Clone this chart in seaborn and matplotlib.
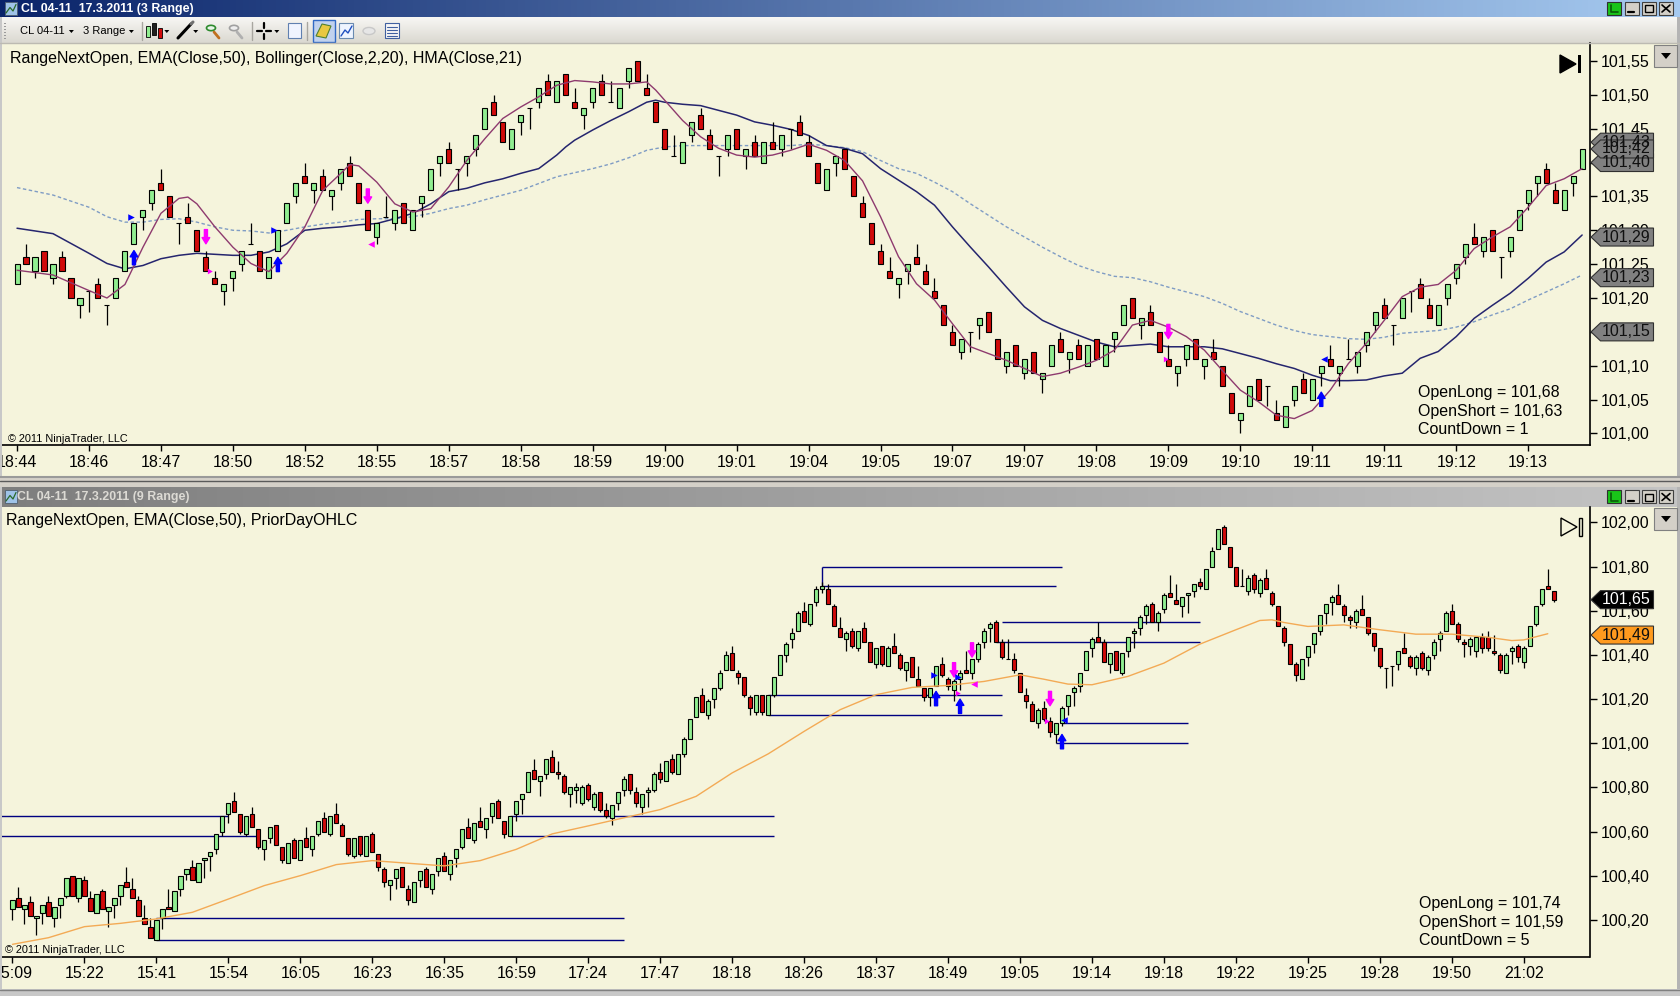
import numpy as np
import pandas as pd
import matplotlib
matplotlib.use("Agg")
import matplotlib.pyplot as plt
import matplotlib.transforms as mtransforms
import seaborn as sns
from matplotlib.patches import Rectangle, Polygon, Circle
from matplotlib.lines import Line2D
from matplotlib.colors import LinearSegmentedColormap
from matplotlib.ticker import FuncFormatter

# ---------------- top chart: CL 04-11, 3 Range ----------------
top_open = [
    101.22, 101.26, 101.24, 101.27, 101.23, 101.26, 101.23, 101.19, 101.21, 101.22,
    101.19, 101.20, 101.24, 101.28, 101.32, 101.34, 101.37, 101.35, 101.31, 101.32,
    101.30, 101.26, 101.23, 101.21, 101.23, 101.25, 101.28, 101.27, 101.23, 101.27,
    101.31, 101.35, 101.38, 101.36, 101.38, 101.35, 101.37, 101.40, 101.37, 101.33,
    101.29, 101.32, 101.31, 101.34, 101.30, 101.34, 101.36, 101.40, 101.42, 101.39,
    101.40, 101.42, 101.45, 101.49, 101.46, 101.42, 101.46, 101.48, 101.49, 101.52,
    101.49, 101.53, 101.49, 101.47, 101.49, 101.52, 101.49, 101.48, 101.52, 101.55,
    101.51, 101.49, 101.45, 101.41, 101.40, 101.44, 101.47, 101.44, 101.41, 101.42,
    101.45, 101.41, 101.43, 101.40, 101.43, 101.42, 101.45, 101.46, 101.43, 101.40,
    101.36, 101.40, 101.42, 101.38, 101.34, 101.31, 101.27, 101.24, 101.22, 101.24,
    101.26, 101.24, 101.21, 101.19, 101.15, 101.12, 101.15, 101.16, 101.18, 101.14,
    101.10, 101.13, 101.09, 101.12, 101.08, 101.10, 101.14, 101.11, 101.13, 101.10,
    101.14, 101.10, 101.14, 101.16, 101.20, 101.16, 101.18, 101.15, 101.11, 101.09,
    101.11, 101.14, 101.10, 101.12, 101.10, 101.06, 101.02, 101.04, 101.08, 101.07,
    101.03, 101.01, 101.05, 101.08, 101.05, 101.09, 101.11, 101.09, 101.11, 101.10,
    101.13, 101.16, 101.19, 101.16, 101.17, 101.21, 101.22, 101.19, 101.16, 101.20,
    101.23, 101.26, 101.29, 101.27, 101.30, 101.26, 101.27, 101.30, 101.34, 101.37,
    101.39, 101.36, 101.33, 101.37, 101.39,
]
top_high = [
    101.25, 101.28, 101.26, 101.27, 101.25, 101.27, 101.23, 101.20, 101.21, 101.23,
    101.19, 101.23, 101.27, 101.31, 101.33, 101.36, 101.39, 101.35, 101.31, 101.34,
    101.30, 101.27, 101.24, 101.22, 101.24, 101.27, 101.31, 101.27, 101.26, 101.30,
    101.34, 101.37, 101.40, 101.37, 101.39, 101.36, 101.39, 101.41, 101.37, 101.33,
    101.31, 101.35, 101.33, 101.34, 101.33, 101.35, 101.39, 101.41, 101.43, 101.39,
    101.41, 101.44, 101.48, 101.50, 101.46, 101.45, 101.47, 101.48, 101.51, 101.53,
    101.52, 101.53, 101.51, 101.48, 101.51, 101.53, 101.52, 101.51, 101.54, 101.55,
    101.53, 101.49, 101.45, 101.44, 101.43, 101.46, 101.48, 101.45, 101.41, 101.44,
    101.45, 101.42, 101.44, 101.43, 101.46, 101.44, 101.45, 101.47, 101.44, 101.40,
    101.39, 101.41, 101.42, 101.38, 101.35, 101.31, 101.28, 101.26, 101.23, 101.25,
    101.28, 101.25, 101.23, 101.19, 101.16, 101.14, 101.15, 101.17, 101.18, 101.14,
    101.12, 101.13, 101.11, 101.12, 101.09, 101.13, 101.15, 101.12, 101.14, 101.13,
    101.14, 101.13, 101.15, 101.19, 101.20, 101.17, 101.19, 101.15, 101.13, 101.10,
    101.13, 101.14, 101.11, 101.14, 101.10, 101.06, 101.03, 101.07, 101.08, 101.07,
    101.05, 101.04, 101.07, 101.09, 101.08, 101.10, 101.13, 101.10, 101.14, 101.12,
    101.15, 101.18, 101.20, 101.16, 101.20, 101.21, 101.23, 101.20, 101.19, 101.22,
    101.25, 101.28, 101.31, 101.29, 101.30, 101.26, 101.29, 101.33, 101.36, 101.38,
    101.40, 101.37, 101.36, 101.38, 101.42,
]
top_low = [
    101.22, 101.25, 101.23, 101.24, 101.22, 101.24, 101.20, 101.17, 101.18, 101.20,
    101.16, 101.20, 101.24, 101.28, 101.30, 101.33, 101.36, 101.32, 101.28, 101.31,
    101.27, 101.24, 101.22, 101.19, 101.21, 101.24, 101.28, 101.24, 101.23, 101.27,
    101.31, 101.34, 101.37, 101.34, 101.36, 101.33, 101.36, 101.38, 101.34, 101.30,
    101.28, 101.32, 101.30, 101.31, 101.30, 101.32, 101.36, 101.38, 101.40, 101.36,
    101.38, 101.41, 101.45, 101.47, 101.43, 101.42, 101.44, 101.45, 101.48, 101.50,
    101.49, 101.50, 101.48, 101.45, 101.48, 101.50, 101.49, 101.48, 101.51, 101.52,
    101.50, 101.46, 101.42, 101.41, 101.40, 101.43, 101.45, 101.42, 101.38, 101.41,
    101.42, 101.39, 101.41, 101.40, 101.42, 101.41, 101.42, 101.44, 101.41, 101.37,
    101.36, 101.38, 101.39, 101.35, 101.32, 101.28, 101.25, 101.23, 101.20, 101.22,
    101.25, 101.22, 101.20, 101.16, 101.13, 101.11, 101.12, 101.14, 101.15, 101.11,
    101.09, 101.10, 101.08, 101.09, 101.06, 101.10, 101.12, 101.09, 101.11, 101.10,
    101.11, 101.10, 101.12, 101.16, 101.17, 101.14, 101.16, 101.12, 101.10, 101.07,
    101.10, 101.11, 101.08, 101.11, 101.07, 101.03, 101.00, 101.04, 101.05, 101.04,
    101.02, 101.01, 101.04, 101.06, 101.05, 101.07, 101.10, 101.07, 101.11, 101.09,
    101.12, 101.15, 101.17, 101.13, 101.17, 101.18, 101.20, 101.17, 101.16, 101.19,
    101.22, 101.25, 101.28, 101.26, 101.27, 101.23, 101.26, 101.30, 101.33, 101.35,
    101.37, 101.34, 101.33, 101.35, 101.39,
]
top_close = [
    101.25, 101.25, 101.26, 101.24, 101.25, 101.24, 101.20, 101.20, 101.21, 101.20,
    101.19, 101.23, 101.27, 101.31, 101.33, 101.36, 101.36, 101.32, 101.31, 101.31,
    101.27, 101.24, 101.22, 101.22, 101.24, 101.27, 101.28, 101.24, 101.26, 101.30,
    101.34, 101.37, 101.37, 101.37, 101.36, 101.36, 101.39, 101.38, 101.34, 101.30,
    101.31, 101.32, 101.33, 101.31, 101.33, 101.35, 101.39, 101.41, 101.40, 101.39,
    101.41, 101.44, 101.48, 101.47, 101.43, 101.45, 101.47, 101.48, 101.51, 101.50,
    101.52, 101.50, 101.48, 101.48, 101.51, 101.50, 101.49, 101.51, 101.54, 101.52,
    101.50, 101.46, 101.42, 101.41, 101.43, 101.46, 101.45, 101.42, 101.41, 101.44,
    101.42, 101.42, 101.41, 101.43, 101.42, 101.44, 101.45, 101.44, 101.41, 101.37,
    101.39, 101.41, 101.39, 101.35, 101.32, 101.28, 101.25, 101.23, 101.23, 101.25,
    101.25, 101.22, 101.20, 101.16, 101.13, 101.14, 101.15, 101.17, 101.15, 101.11,
    101.12, 101.10, 101.11, 101.09, 101.09, 101.13, 101.12, 101.12, 101.11, 101.13,
    101.11, 101.13, 101.15, 101.19, 101.17, 101.17, 101.16, 101.12, 101.10, 101.10,
    101.13, 101.11, 101.11, 101.11, 101.07, 101.03, 101.03, 101.07, 101.05, 101.07,
    101.02, 101.04, 101.07, 101.06, 101.08, 101.10, 101.10, 101.10, 101.11, 101.12,
    101.15, 101.18, 101.17, 101.16, 101.20, 101.21, 101.20, 101.17, 101.19, 101.22,
    101.25, 101.28, 101.28, 101.29, 101.27, 101.26, 101.29, 101.33, 101.36, 101.38,
    101.37, 101.34, 101.36, 101.38, 101.42,
]

# indicator lines, read at sampled bars
hma_bars = [0, 4, 8, 10, 12, 14, 16, 18, 19, 20, 22, 24, 26, 28, 30, 32, 34, 36, 37, 38,
            40, 42, 44, 46, 48, 50, 52, 54, 56, 58, 60, 62, 64, 66, 68, 70, 71, 72, 74, 76,
            78, 80, 82, 84, 86, 88, 90, 92, 94, 96, 98, 100, 102, 104, 106, 108, 110, 112, 114, 116,
            118, 120, 122, 124, 126, 128, 130, 132, 134, 136, 138, 140, 142, 144, 146, 148, 150, 152, 154, 156,
            158, 160, 162, 164, 166, 168, 170, 172, 174]
hma_vals = [101.241, 101.234, 101.211, 101.200, 101.220, 101.275, 101.325, 101.347, 101.349, 101.339,
            101.305, 101.275, 101.251, 101.239, 101.266, 101.305, 101.359, 101.384, 101.397, 101.395,
            101.371, 101.339, 101.327, 101.332, 101.364, 101.403, 101.435, 101.465, 101.482, 101.497,
            101.514, 101.521, 101.519, 101.516, 101.516, 101.519, 101.507, 101.492, 101.462, 101.438,
            101.421, 101.411, 101.408, 101.411, 101.418, 101.427, 101.418, 101.403, 101.373, 101.320,
            101.261, 101.221, 101.197, 101.162, 101.128, 101.118, 101.108, 101.096, 101.084, 101.089,
            101.098, 101.108, 101.123, 101.160, 101.167, 101.157, 101.143, 101.123, 101.093, 101.064,
            101.047, 101.027, 101.022, 101.034, 101.064, 101.103, 101.133, 101.167, 101.202, 101.216,
            101.220, 101.241, 101.273, 101.290, 101.305, 101.334, 101.366, 101.376, 101.391]

sma_bars = [0, 4, 8, 10, 12, 14, 16, 18, 20, 24, 26, 28, 30, 32, 34, 36, 38, 40, 42, 44,
            46, 48, 50, 52, 54, 56, 58, 60, 61, 62, 64, 66, 68, 70, 71, 72, 74, 76, 78, 80,
            82, 84, 86, 88, 90, 92, 94, 96, 98, 100, 102, 104, 106, 108, 110, 112, 114, 116, 118, 120,
            122, 124, 126, 128, 130, 132, 134, 136, 138, 140, 142, 144, 146, 148, 150, 152, 154, 156, 158, 160,
            162, 164, 166, 168, 170, 172, 174]
sma_vals = [101.303, 101.295, 101.266, 101.251, 101.243, 101.248, 101.258, 101.263, 101.266, 101.263,
            101.263, 101.268, 101.280, 101.300, 101.303, 101.305, 101.308, 101.310, 101.317, 101.325,
            101.339, 101.357, 101.362, 101.370, 101.376, 101.384, 101.391, 101.411, 101.423, 101.433,
            101.448, 101.462, 101.475, 101.489, 101.492, 101.489, 101.486, 101.484, 101.477, 101.470,
            101.460, 101.455, 101.449, 101.440, 101.425, 101.421, 101.413, 101.391, 101.374, 101.357,
            101.337, 101.305, 101.275, 101.246, 101.216, 101.187, 101.167, 101.155, 101.145, 101.135,
            101.128, 101.130, 101.132, 101.128, 101.128, 101.128, 101.125, 101.118, 101.111, 101.103,
            101.096, 101.086, 101.078, 101.078, 101.079, 101.085, 101.089, 101.111, 101.121, 101.143,
            101.170, 101.189, 101.207, 101.229, 101.253, 101.268, 101.293]

ema_bars = [0, 4, 8, 10, 12, 14, 16, 18, 20, 22, 24, 26, 28, 30, 32, 34, 36, 38, 40, 42,
            44, 46, 48, 50, 52, 54, 56, 58, 60, 61, 64, 66, 68, 70, 72, 74, 76, 78, 80, 82,
            84, 86, 88, 90, 92, 94, 96, 98, 100, 102, 104, 106, 108, 110, 112, 114, 116, 118, 120, 122,
            124, 126, 128, 130, 132, 134, 136, 138, 140, 142, 144, 146, 148, 150, 152, 154, 156, 158, 160, 162,
            164, 166, 168, 170, 172, 174]
ema_vals = [101.363, 101.352, 101.334, 101.320, 101.312, 101.312, 101.316, 101.317, 101.312, 101.305,
            101.300, 101.299, 101.296, 101.300, 101.305, 101.309, 101.312, 101.316, 101.317, 101.317,
            101.320, 101.325, 101.332, 101.337, 101.345, 101.352, 101.359, 101.369, 101.379, 101.382,
            101.391, 101.398, 101.407, 101.418, 101.423, 101.425, 101.425, 101.425, 101.425, 101.425,
            101.425, 101.425, 101.427, 101.425, 101.422, 101.416, 101.403, 101.391, 101.384, 101.371,
            101.357, 101.339, 101.322, 101.305, 101.290, 101.275, 101.261, 101.248, 101.239, 101.232,
            101.230, 101.224, 101.216, 101.209, 101.202, 101.192, 101.180, 101.170, 101.160, 101.152,
            101.146, 101.143, 101.140, 101.139, 101.142, 101.148, 101.150, 101.152, 101.157, 101.165,
            101.175, 101.184, 101.197, 101.209, 101.221, 101.234]

top_tick_bars = list(range(0, 169, 8))
top_tick_labels = ['18:44', '18:46', '18:47', '18:50', '18:52', '18:55', '18:57', '18:58', '18:59', '19:00', '19:01',
                   '19:04', '19:05', '19:07', '19:07', '19:08', '19:09', '19:10', '19:11', '19:11', '19:12', '19:13']
top_price_ticks = [101.00, 101.05, 101.10, 101.15, 101.20, 101.25, 101.30, 101.35, 101.40, 101.45, 101.50, 101.55]
top_flags = [101.15, 101.23, 101.29, 101.43, 101.40, 101.42]

top_up_bars, top_up_tips = [13, 29, 145], [101.27, 101.26, 101.061]
top_dn_bars, top_dn_tips = [21, 39, 128], [101.28, 101.34, 101.14]
top_blue_r = ([12.7, 28.6], [101.32, 101.30])
top_blue_l = ([145.3], [101.11])
top_mag_l = ([39.4], [101.28])
top_mag_d = ([21.3, 127.6], [101.24, 101.11])

# ---------------- bottom chart: CL 04-11, 9 Range ----------------
bot_open = [
    100.25, 100.30, 100.25, 100.28, 100.21, 100.23, 100.28, 100.21, 100.27, 100.31,
    100.40, 100.30, 100.38, 100.30, 100.23, 100.33, 100.24, 100.27, 100.31, 100.37,
    100.34, 100.29, 100.21, 100.17, 100.11, 100.21, 100.26, 100.24, 100.34, 100.41,
    100.44, 100.37, 100.47, 100.49, 100.52, 100.60, 100.68, 100.74, 100.68, 100.59,
    100.68, 100.61, 100.52, 100.57, 100.63, 100.53, 100.46, 100.56, 100.47, 100.57,
    100.52, 100.59, 100.66, 100.59, 100.68, 100.63, 100.57, 100.49, 100.58, 100.49,
    100.59, 100.50, 100.43, 100.36, 100.39, 100.44, 100.34, 100.28, 100.38, 100.43,
    100.34, 100.42, 100.49, 100.41, 100.48, 100.53, 100.62, 100.56, 100.65, 100.61,
    100.67, 100.74, 100.65, 100.58, 100.68, 100.75, 100.78, 100.88, 100.83, 100.86,
    100.94, 100.87, 100.85, 100.77, 100.79, 100.73, 100.81, 100.71, 100.78, 100.70,
    100.66, 100.73, 100.79, 100.86, 100.78, 100.71, 100.78, 100.79, 100.87, 100.83,
    100.93, 100.86, 100.95, 101.02, 101.12, 101.22, 101.13, 101.20, 101.25, 101.33,
    101.41, 101.32, 101.30, 101.21, 101.14, 101.22, 101.13, 101.22, 101.31, 101.40,
    101.47, 101.51, 101.60, 101.54, 101.64, 101.70, 101.70, 101.62, 101.52, 101.47,
    101.51, 101.43, 101.52, 101.46, 101.36, 101.44, 101.35, 101.44, 101.40, 101.33,
    101.39, 101.29, 101.25, 101.21, 101.26, 101.36, 101.29, 101.24, 101.29, 101.33,
    101.32, 101.38, 101.46, 101.52, 101.55, 101.46, 101.38, 101.38, 101.32, 101.22,
    101.18, 101.09, 101.16, 101.10, 101.04, 101.09, 101.17, 101.23, 101.26, 101.33,
    101.43, 101.48, 101.46, 101.36, 101.42, 101.32, 101.42, 101.50, 101.52, 101.58,
    101.63, 101.55, 101.61, 101.68, 101.65, 101.62, 101.67, 101.69, 101.73, 101.70,
    101.80, 101.88, 101.98, 101.89, 101.80, 101.71, 101.69, 101.76, 101.68, 101.75,
    101.68, 101.62, 101.52, 101.45, 101.36, 101.29, 101.39, 101.45, 101.51, 101.59,
    101.64, 101.67, 101.62, 101.57, 101.55, 101.61, 101.57, 101.50, 101.43, 101.34,
    101.35, 101.36, 101.43, 101.39, 101.34, 101.41, 101.33, 101.40, 101.47, 101.51,
    101.60, 101.54, 101.46, 101.44, 101.42, 101.48, 101.48, 101.42, 101.40, 101.32,
    101.42, 101.44, 101.37, 101.44, 101.54, 101.63, 101.71, 101.69,
]
bot_high = [
    100.29, 100.35, 100.27, 100.31, 100.22, 100.27, 100.31, 100.26, 100.30, 100.39,
    100.40, 100.39, 100.40, 100.33, 100.32, 100.34, 100.26, 100.30, 100.36, 100.44,
    100.39, 100.31, 100.27, 100.21, 100.20, 100.25, 100.34, 100.33, 100.40, 100.43,
    100.47, 100.46, 100.48, 100.51, 100.59, 100.67, 100.73, 100.78, 100.68, 100.67,
    100.71, 100.61, 100.56, 100.62, 100.63, 100.53, 100.55, 100.57, 100.56, 100.62,
    100.58, 100.65, 100.69, 100.67, 100.73, 100.64, 100.57, 100.57, 100.58, 100.58,
    100.60, 100.50, 100.44, 100.38, 100.43, 100.44, 100.36, 100.37, 100.42, 100.44,
    100.41, 100.48, 100.51, 100.47, 100.52, 100.61, 100.66, 100.64, 100.71, 100.66,
    100.73, 100.75, 100.65, 100.67, 100.74, 100.77, 100.87, 100.93, 100.85, 100.93,
    100.97, 100.92, 100.86, 100.80, 100.82, 100.81, 100.82, 100.78, 100.78, 100.73,
    100.72, 100.78, 100.85, 100.86, 100.80, 100.77, 100.80, 100.87, 100.91, 100.92,
    100.95, 100.95, 101.03, 101.11, 101.21, 101.25, 101.20, 101.25, 101.33, 101.42,
    101.44, 101.33, 101.30, 101.22, 101.22, 101.22, 101.22, 101.30, 101.40, 101.46,
    101.52, 101.60, 101.64, 101.63, 101.71, 101.73, 101.72, 101.63, 101.57, 101.51,
    101.52, 101.51, 101.55, 101.46, 101.43, 101.44, 101.44, 101.50, 101.41, 101.37,
    101.39, 101.35, 101.25, 101.25, 101.35, 101.39, 101.30, 101.29, 101.33, 101.42,
    101.38, 101.46, 101.52, 101.55, 101.56, 101.47, 101.47, 101.41, 101.32, 101.25,
    101.19, 101.16, 101.19, 101.12, 101.09, 101.17, 101.22, 101.26, 101.32, 101.42,
    101.48, 101.55, 101.47, 101.41, 101.42, 101.41, 101.48, 101.52, 101.58, 101.63,
    101.64, 101.60, 101.68, 101.76, 101.72, 101.66, 101.68, 101.72, 101.75, 101.79,
    101.89, 101.97, 101.99, 101.89, 101.80, 101.79, 101.76, 101.77, 101.75, 101.79,
    101.69, 101.62, 101.53, 101.45, 101.37, 101.38, 101.44, 101.50, 101.58, 101.63,
    101.67, 101.72, 101.63, 101.58, 101.61, 101.67, 101.57, 101.50, 101.43, 101.34,
    101.35, 101.42, 101.50, 101.40, 101.40, 101.42, 101.40, 101.47, 101.51, 101.60,
    101.63, 101.55, 101.47, 101.48, 101.48, 101.50, 101.51, 101.49, 101.41, 101.41,
    101.44, 101.45, 101.44, 101.53, 101.62, 101.70, 101.79, 101.69,
]
bot_low = [
    100.20, 100.26, 100.18, 100.22, 100.13, 100.18, 100.22, 100.17, 100.21, 100.30,
    100.31, 100.28, 100.31, 100.24, 100.23, 100.25, 100.17, 100.21, 100.27, 100.35,
    100.30, 100.22, 100.18, 100.12, 100.11, 100.16, 100.25, 100.24, 100.31, 100.38,
    100.38, 100.37, 100.39, 100.42, 100.50, 100.58, 100.64, 100.69, 100.59, 100.58,
    100.62, 100.52, 100.47, 100.55, 100.54, 100.46, 100.46, 100.48, 100.47, 100.53,
    100.49, 100.58, 100.60, 100.58, 100.64, 100.58, 100.49, 100.48, 100.49, 100.49,
    100.51, 100.42, 100.35, 100.29, 100.34, 100.35, 100.27, 100.28, 100.35, 100.35,
    100.32, 100.40, 100.42, 100.38, 100.44, 100.52, 100.57, 100.55, 100.62, 100.57,
    100.64, 100.66, 100.57, 100.58, 100.65, 100.68, 100.78, 100.84, 100.76, 100.84,
    100.87, 100.84, 100.77, 100.71, 100.73, 100.72, 100.74, 100.70, 100.69, 100.66,
    100.63, 100.70, 100.76, 100.77, 100.71, 100.68, 100.71, 100.78, 100.82, 100.83,
    100.86, 100.86, 100.94, 101.02, 101.12, 101.14, 101.11, 101.16, 101.24, 101.33,
    101.33, 101.27, 101.21, 101.13, 101.13, 101.13, 101.13, 101.21, 101.31, 101.37,
    101.43, 101.51, 101.55, 101.53, 101.62, 101.68, 101.63, 101.53, 101.48, 101.42,
    101.43, 101.42, 101.46, 101.37, 101.34, 101.35, 101.35, 101.41, 101.33, 101.28,
    101.30, 101.26, 101.19, 101.17, 101.26, 101.30, 101.24, 101.19, 101.24, 101.32,
    101.29, 101.37, 101.43, 101.46, 101.46, 101.38, 101.38, 101.32, 101.23, 101.16,
    101.10, 101.07, 101.10, 101.03, 101.00, 101.08, 101.13, 101.17, 101.23, 101.33,
    101.39, 101.46, 101.37, 101.32, 101.33, 101.31, 101.39, 101.43, 101.49, 101.54,
    101.55, 101.51, 101.59, 101.66, 101.63, 101.57, 101.59, 101.66, 101.70, 101.70,
    101.80, 101.88, 101.90, 101.80, 101.71, 101.71, 101.67, 101.68, 101.66, 101.70,
    101.62, 101.53, 101.44, 101.36, 101.28, 101.29, 101.35, 101.41, 101.49, 101.54,
    101.58, 101.63, 101.55, 101.52, 101.52, 101.58, 101.49, 101.42, 101.34, 101.25,
    101.26, 101.33, 101.41, 101.34, 101.31, 101.33, 101.31, 101.38, 101.42, 101.51,
    101.54, 101.46, 101.39, 101.40, 101.39, 101.41, 101.42, 101.40, 101.32, 101.32,
    101.36, 101.37, 101.34, 101.44, 101.53, 101.62, 101.70, 101.64,
]
bot_close = [
    100.29, 100.26, 100.27, 100.22, 100.22, 100.27, 100.22, 100.26, 100.30, 100.39,
    100.31, 100.39, 100.31, 100.24, 100.32, 100.25, 100.26, 100.30, 100.36, 100.35,
    100.30, 100.22, 100.18, 100.12, 100.20, 100.25, 100.25, 100.33, 100.40, 100.43,
    100.38, 100.46, 100.48, 100.51, 100.59, 100.67, 100.73, 100.69, 100.60, 100.67,
    100.62, 100.53, 100.56, 100.62, 100.54, 100.47, 100.55, 100.48, 100.56, 100.53,
    100.58, 100.65, 100.60, 100.67, 100.64, 100.58, 100.50, 100.57, 100.50, 100.58,
    100.51, 100.44, 100.37, 100.38, 100.43, 100.35, 100.29, 100.37, 100.42, 100.35,
    100.41, 100.48, 100.42, 100.47, 100.52, 100.61, 100.57, 100.64, 100.62, 100.66,
    100.73, 100.66, 100.59, 100.67, 100.74, 100.77, 100.87, 100.84, 100.85, 100.93,
    100.87, 100.86, 100.78, 100.80, 100.80, 100.80, 100.75, 100.77, 100.70, 100.67,
    100.72, 100.78, 100.84, 100.79, 100.73, 100.77, 100.79, 100.86, 100.84, 100.92,
    100.87, 100.95, 101.02, 101.11, 101.21, 101.14, 101.19, 101.25, 101.32, 101.40,
    101.33, 101.30, 101.22, 101.16, 101.22, 101.14, 101.22, 101.30, 101.40, 101.45,
    101.50, 101.59, 101.55, 101.63, 101.70, 101.71, 101.63, 101.53, 101.48, 101.50,
    101.44, 101.51, 101.46, 101.37, 101.43, 101.36, 101.43, 101.41, 101.34, 101.37,
    101.30, 101.26, 101.21, 101.25, 101.35, 101.31, 101.26, 101.28, 101.32, 101.32,
    101.38, 101.45, 101.51, 101.54, 101.46, 101.39, 101.38, 101.33, 101.23, 101.19,
    101.10, 101.15, 101.11, 101.05, 101.09, 101.16, 101.22, 101.25, 101.32, 101.42,
    101.47, 101.46, 101.37, 101.41, 101.33, 101.41, 101.48, 101.51, 101.57, 101.62,
    101.55, 101.59, 101.67, 101.66, 101.63, 101.66, 101.68, 101.72, 101.71, 101.79,
    101.87, 101.97, 101.90, 101.80, 101.71, 101.71, 101.75, 101.70, 101.74, 101.70,
    101.63, 101.53, 101.46, 101.36, 101.31, 101.38, 101.44, 101.50, 101.58, 101.63,
    101.66, 101.63, 101.58, 101.56, 101.60, 101.58, 101.50, 101.44, 101.35, 101.34,
    101.35, 101.42, 101.41, 101.35, 101.39, 101.34, 101.39, 101.46, 101.50, 101.59,
    101.54, 101.47, 101.45, 101.47, 101.48, 101.43, 101.43, 101.41, 101.33, 101.40,
    101.43, 101.39, 101.43, 101.53, 101.62, 101.70, 101.70, 101.65,
]

bema_bars = [0, 6, 12, 18, 24, 30, 36, 42, 48, 54, 60, 66, 72, 78, 84, 90, 96, 102, 108, 114,
             120, 126, 132, 138, 144, 150, 156, 162, 168, 172, 176, 180, 186, 192, 198, 204, 208, 210, 212, 216,
             222, 228, 234, 240, 246, 250, 252, 256]
bema_vals = [100.090, 100.120, 100.170, 100.185, 100.205, 100.235, 100.295, 100.356, 100.401, 100.451,
             100.469, 100.457, 100.445, 100.469, 100.520, 100.590, 100.626, 100.663, 100.700, 100.760,
             100.866, 100.952, 101.054, 101.152, 101.220, 101.253, 101.262, 101.280, 101.310, 101.290,
             101.268, 101.265, 101.303, 101.363, 101.449, 101.514, 101.556, 101.559, 101.547, 101.529,
             101.536, 101.514, 101.494, 101.494, 101.480, 101.465, 101.468, 101.496]

# PriorDayOHLC segments: price, first bar, last bar
pd_price = [100.67, 100.58, 100.21, 100.11, 100.67, 100.58, 101.80, 101.71, 101.22, 101.13, 101.55, 101.46, 101.09, 101.00]
pd_start = [-2, -2, 24, 24, 83, 83, 135, 135, 126, 126, 165, 164, 175, 174]
pd_end = [36, 40.6, 102, 102, 127, 127, 175, 174, 165, 165, 198, 198, 196, 196]

bot_tick_bars = list(range(0, 253, 12))
bot_tick_labels = ['15:09', '15:22', '15:41', '15:54', '16:05', '16:23', '16:35', '16:59', '17:24', '17:47', '18:18',
                   '18:26', '18:37', '18:49', '19:05', '19:14', '19:18', '19:22', '19:25', '19:28', '19:50', '21:02']
bot_price_ticks = [100.20, 100.40, 100.60, 100.80, 101.00, 101.20, 101.40, 101.60, 101.80, 102.00]

bot_up_bars, bot_up_tips = [154, 158, 175], [101.235, 101.20, 101.04]
bot_dn_bars, bot_dn_tips = [157, 160, 173], [101.30, 101.39, 101.17]
bot_blue_r = ([153.6, 157.6], [101.31, 101.30])
bot_blue_l = ([175.3], [101.107])
bot_mag_l = ([160.4], [101.27])
bot_mag_d = ([157.5, 172.3], [101.227, 101.10])

# ---------------- style ----------------
W, H = 1680, 996
BG = '#f5f4dc'
UP = '#90ee90'
DOWN = '#d10a0a'
BLUE = '#0000ff'
MAG = '#ff00ff'
FS = 11.5

sns.set_style('white')
plt.rcParams['font.family'] = ['Liberation Sans', 'DejaVu Sans']

fig = plt.figure(figsize=(W / 100, H / 100), dpi=100, facecolor=BG)


def fx(x):
    return x / W


def fy(y):
    return 1 - y / H


def rect(x0, y0, x1, y1, **kw):
    fig.add_artist(Rectangle((fx(x0), fy(y1)), (x1 - x0) / W, (y1 - y0) / H, transform=fig.transFigure, **kw))


def poly(pts, **kw):
    fig.add_artist(Polygon([(fx(x), fy(y)) for x, y in pts], closed=True, transform=fig.transFigure, **kw))


def line(xs, ys, **kw):
    fig.add_artist(Line2D([fx(x) for x in xs], [fy(y) for y in ys], transform=fig.transFigure, **kw))


def text(x, y, s, **kw):
    kw.setdefault('va', 'center')
    fig.text(fx(x), fy(y), s, **kw)


def gradient(y0, y1, c0, c1, vertical=False):
    g = fig.add_axes([0, fy(y1), 1, (y1 - y0) / H])
    cmap = LinearSegmentedColormap.from_list('g', [c0, c1])
    arr = np.linspace(0, 1, 256)
    arr = arr[:, None] if vertical else arr[None, :]
    g.imshow(arr, aspect='auto', cmap=cmap, extent=(0, 1, 0, 1), origin='upper' if vertical else 'lower')
    g.set_axis_off()


def win_buttons(y0, y1):
    rect(1607, y0, 1621, y1, facecolor='#19c419', edgecolor='#303030', lw=0.8)
    line([1611, 1611, 1618], [y0 + 3, y1 - 3, y1 - 3], color='#0a5a0a', lw=1.2)
    for x0 in (1625, 1642, 1659):
        rect(x0, y0, x0 + 14, y1, facecolor='#d4d0c8', edgecolor='#404040', lw=0.8)
    line([1628, 1634], [y1 - 3, y1 - 3], color='black', lw=1.6)
    rect(1645, y0 + 3, 1653, y1 - 3, facecolor='none', edgecolor='black', lw=1.0)
    line([1662, 1670], [y0 + 3, y1 - 3], color='black', lw=1.2)
    line([1662, 1670], [y1 - 3, y0 + 3], color='black', lw=1.2)


def chart_icon(y0, y1):
    rect(5, y0, 17, y1, facecolor='#9fc3e8', edgecolor='#506070', lw=0.6)
    line([6, 10, 13, 16], [y1 - 2, y0 + 5, y1 - 4, y0 + 2], color='#2a6a2a', lw=0.9)


def scroll_button(y0, y1):
    rect(1654, y0, 1677, y1, facecolor='#d4d0c8', edgecolor='#808080', lw=0.8)
    ym = (y0 + y1) / 2
    poly([(1661, ym - 3), (1671, ym - 3), (1666, ym + 3)], facecolor='black', edgecolor='none')


def draw_candles(ax, o, h, l, c, width):
    o, h, l, c = (np.asarray(v, float) for v in (o, h, l, c))
    idx = np.arange(len(o))
    ax.vlines(idx, l, h, color='black', linewidth=0.9, zorder=3)
    colors = np.where(c >= o, UP, DOWN)
    ax.bar(idx, np.maximum(np.abs(c - o), 1e-5), width=width, bottom=np.minimum(o, c),
           color=colors, edgecolor='black', linewidth=0.8, zorder=4)


def setup(ax, xlim, ylim, yticks, xbars, xlabels):
    ax.set_facecolor(BG)
    ax.set_xlim(*xlim)
    ax.set_ylim(*ylim)
    ax.yaxis.tick_right()
    ax.set_yticks(yticks)
    ax.yaxis.set_major_formatter(FuncFormatter(lambda v, p: f"{v:.2f}".replace('.', ',')))
    ax.set_xticks(xbars)
    ax.set_xticklabels(xlabels)
    ax.tick_params(axis='y', direction='out', length=5, width=1, pad=3, labelsize=FS,
                   right=True, left=False, labelright=True, labelleft=False, colors='black')
    ax.tick_params(axis='x', direction='out', length=4, width=1, pad=3, labelsize=FS,
                   bottom=True, colors='black')
    for s in ('top', 'left'):
        ax.spines[s].set_visible(False)
    for s in ('right', 'bottom'):
        ax.spines[s].set_visible(True)
        ax.spines[s].set_color('black')
        ax.spines[s].set_linewidth(1.2)
    ax.set_xlabel('')
    ax.set_ylabel('')


def arrows(ax, bars, tips, length, color):
    for b, t in zip(bars, tips):
        ax.annotate('', xy=(b, t), xytext=(b, t - length),
                    arrowprops=dict(arrowstyle='simple,head_length=0.45,head_width=0.55,tail_width=0.22',
                                    fc=color, ec=color, shrinkA=0, shrinkB=0), zorder=6)


def flags(ax, prices, fcs, tcs, height_px):
    trans = mtransforms.blended_transform_factory(ax.transAxes, ax.transData)
    lo, hi = ax.get_ylim()
    hh = 9 * (hi - lo) / height_px
    wpx = 1587.5
    x0, x1, x2 = 1 + 1.5 / wpx, 1 + 11 / wpx, 1 + 64 / wpx
    for p, fc, tc in zip(prices, fcs, tcs):
        ax.add_patch(Polygon([(x0, p), (x1, p + hh), (x2, p + hh), (x2, p - hh), (x1, p - hh)], closed=True,
                             transform=trans, facecolor=fc, edgecolor='#303030', lw=0.8, clip_on=False, zorder=10))
        ax.text((x1 + x2) / 2 - 1 / wpx, p, f"{p:.2f}".replace('.', ','), transform=trans, ha='center', va='center',
                fontsize=FS, color=tc, clip_on=False, zorder=11)


# ---------------- window chrome ----------------
gradient(0, 17.3, '#0a246a', '#a6caf0')
gradient(17.3, 43.3, '#f8f7f4', '#dad8d0', vertical=True)
gradient(486.7, 506.7, '#7e7e7e', '#c4c4c4')
rect(0, 476, W, 486.7, facecolor='#d4d0c8', edgecolor='none')
line([0, W], [477.5, 477.5], color='#9a9a9a', lw=1.5)
line([0, W], [480.5, 480.5], color='#5a5a5a', lw=1.0)
rect(0, 17.3, 2, 476, facecolor='#c8c8c8', edgecolor='none')
rect(0, 486.7, 2, 996, facecolor='#c8c8c8', edgecolor='none')
rect(1677, 17.3, W, 476, facecolor='#b4b4b4', edgecolor='none')
rect(1677, 486.7, W, 996, facecolor='#b4b4b4', edgecolor='none')
rect(0, 989, W, 996, facecolor='#c8c8c8', edgecolor='none')
line([0, W], [989.5, 989.5], color='#808080', lw=1.0)
line([0, W], [43, 43], color='#bcbab2', lw=1.0)

chart_icon(2.5, 15)
text(21.4, 9, 'CL 04-11  17.3.2011 (3 Range)', color='white', fontweight='bold', fontsize=8.9)
win_buttons(2, 15)
chart_icon(490.5, 503)
text(17, 497, 'CL 04-11  17.3.2011 (9 Range)', color='#dcdad4', fontweight='bold', fontsize=8.9)
win_buttons(490.5, 503.5)

# toolbar
for yy in range(23, 40, 3):
    rect(4, yy, 6, yy + 1.5, facecolor='#9a9a9a', edgecolor='none')
text(19.6, 31, 'CL 04-11', fontsize=8.0, color='black')
text(82.9, 31, '3 Range', fontsize=8.0, color='black')
for xa in (71.4, 131.4, 166.8, 195.7, 276.8):
    poly([(xa - 2.5, 30), (xa + 2.5, 30), (xa, 33)], facecolor='black', edgecolor='none')
for xs in (141.8, 251.8, 307):
    line([xs, xs], [22, 40], color='#a8a6a0', lw=1.0)
for xc, col, y0c, y1c in ((148, UP, 26, 37), (154, '#202020', 23, 35), (160, DOWN, 28, 38)):
    rect(xc - 2, y0c, xc + 2, y1c, facecolor=col, edgecolor='black', lw=0.6)
line([178, 191], [38, 24], color='black', lw=2.2)
line([191, 193], [24, 22], color='#707070', lw=2.2)
fig.add_artist(Circle((fx(211), fy(28)), 4.5 / W, transform=fig.transFigure, facecolor='#e8f4e8', edgecolor='#2d8a2d', lw=1.2))
line([214, 219], [32, 38], color='#c07020', lw=2.0)
fig.add_artist(Circle((fx(234), fy(28)), 4.5 / W, transform=fig.transFigure, facecolor='#eeeeee', edgecolor='#a0a0a0', lw=1.2))
line([237, 242], [32, 38], color='#b0b0b0', lw=2.0)
line([257, 262], [31, 31], color='black', lw=1.6)
line([266, 271], [31, 31], color='black', lw=1.6)
line([264, 264], [23, 28], color='black', lw=1.6)
line([264, 264], [34, 39], color='black', lw=1.6)
rect(288, 23, 301, 38, facecolor='#f0f4ff', edgecolor='#6080b0', lw=0.8)
rect(312.5, 20, 334.6, 42, facecolor='#c1d2ee', edgecolor='#316ac5', lw=1.0)
poly([(316, 36), (322, 24), (331, 26), (326, 38)], facecolor='#e8c840', edgecolor='#508030', lw=0.8)
rect(339, 23, 353, 38, facecolor='#eef4ff', edgecolor='#6a8ab0', lw=0.8)
line([341, 345, 348, 352], [36, 30, 33, 26], color='#2050c0', lw=1.0)
fig.add_artist(Circle((fx(369), fy(31)), 6 / W, transform=fig.transFigure, facecolor='#e6e6e6', edgecolor='#c8c8c8', lw=1.0))
rect(385, 23, 399, 38, facecolor='#f6f6f6', edgecolor='#4060a0', lw=0.8)
for yl in (27, 30, 33, 36):
    line([387, 397], [yl, yl], color='#4060a0', lw=0.8)

# ---------------- top chart ----------------
top_h_px = 445 - 43.3
ax1 = fig.add_axes([fx(2), fy(445), 1587.5 / W, top_h_px / H])
draw_candles(ax1, top_open, top_high, top_low, top_close, 0.56)
sns.lineplot(x=ema_bars, y=ema_vals, ax=ax1, color='#7f9cc4', linewidth=1.0, estimator=None, sort=False, zorder=2)
ax1.lines[-1].set_linestyle((0, (2.5, 1.8)))
sns.lineplot(x=sma_bars, y=sma_vals, ax=ax1, color='#25256e', linewidth=1.1, estimator=None, sort=False, zorder=2)
sns.lineplot(x=hma_bars, y=hma_vals, ax=ax1, color='#8e3a6e', linewidth=1.0, estimator=None, sort=False, zorder=5)
setup(ax1, (-1.67, 174.82), (100.983, 101.576), top_price_ticks, top_tick_bars, top_tick_labels)
arrows(ax1, top_up_bars, top_up_tips, 0.021, BLUE)
arrows(ax1, top_dn_bars, top_dn_tips, -0.021, MAG)
ax1.scatter(*top_blue_r, marker='>', s=22, color=BLUE, zorder=6, linewidths=0)
ax1.scatter(*top_blue_l, marker='<', s=22, color=BLUE, zorder=6, linewidths=0)
ax1.scatter(*top_mag_l, marker='<', s=22, color=MAG, zorder=6, linewidths=0)
ax1.scatter(*top_mag_d, marker=(3, 0, 30), s=22, color=MAG, zorder=6, linewidths=0)
flags(ax1, top_flags, ['#808080'] * len(top_flags), ['#101010'] * len(top_flags), top_h_px)

text(10, 58.3, 'RangeNextOpen, EMA(Close,50), Bollinger(Close,2,20), HMA(Close,21)', fontsize=FS, color='black')
text(1418, 392.7, 'OpenLong = 101,68', fontsize=FS, color='black')
text(1418, 411, 'OpenShort = 101,63', fontsize=FS, color='black')
text(1418, 429.3, 'CountDown = 1', fontsize=FS, color='black')
text(7.9, 439.3, '\u00a9 2011 NinjaTrader, LLC', fontsize=7.8, color='black')
poly([(1560, 55), (1560, 73), (1576, 64)], facecolor='black', edgecolor='black')
rect(1578, 55, 1581, 73, facecolor='black', edgecolor='none')
scroll_button(45, 67)

# ---------------- bottom chart ----------------
bot_h_px = 956.7 - 506.7
ax2 = fig.add_axes([fx(2), fy(956.7), 1587.5 / W, bot_h_px / H])
ax2.hlines(pd_price, pd_start, pd_end, color='#000080', linewidth=1.0, zorder=2)
ax2.vlines([pd_start[6]], [pd_price[7]], [pd_price[6]], color='#000080', linewidth=1.0, zorder=2)
draw_candles(ax2, bot_open, bot_high, bot_low, bot_close, 0.7)
sns.lineplot(x=bema_bars, y=bema_vals, ax=ax2, color='#f3aa55', linewidth=1.0, estimator=None, sort=False, zorder=5)
setup(ax2, (-1.75, 262.96), (100.034, 102.071), bot_price_ticks, bot_tick_bars, bot_tick_labels)
arrows(ax2, bot_up_bars, bot_up_tips, 0.065, BLUE)
arrows(ax2, bot_dn_bars, bot_dn_tips, -0.065, MAG)
ax2.scatter(*bot_blue_r, marker='>', s=22, color=BLUE, zorder=6, linewidths=0)
ax2.scatter(*bot_blue_l, marker='<', s=22, color=BLUE, zorder=6, linewidths=0)
ax2.scatter(*bot_mag_l, marker='<', s=22, color=MAG, zorder=6, linewidths=0)
ax2.scatter(*bot_mag_d, marker=(3, 0, 30), s=22, color=MAG, zorder=6, linewidths=0)
flags(ax2, [bema_vals[-1] - 0.006, bot_close[-1]], ['#ff9a1e', '#000000'], ['#101010', '#ffffff'], bot_h_px)

text(6, 521, 'RangeNextOpen, EMA(Close,50), PriorDayOHLC', fontsize=FS, color='black')
text(1419, 903.3, 'OpenLong = 101,74', fontsize=FS, color='black')
text(1419, 922.3, 'OpenShort = 101,59', fontsize=FS, color='black')
text(1419, 940.3, 'CountDown = 5', fontsize=FS, color='black')
text(5.4, 950, '\u00a9 2011 NinjaTrader, LLC', fontsize=7.8, color='black')
poly([(1561, 518), (1561, 536), (1577, 527)], facecolor='none', edgecolor='black', lw=1.0)
rect(1579, 518, 1582, 536, facecolor='none', edgecolor='black', lw=1.0)
scroll_button(508, 530)

fig.savefig('out.png', dpi=100, facecolor=BG)
